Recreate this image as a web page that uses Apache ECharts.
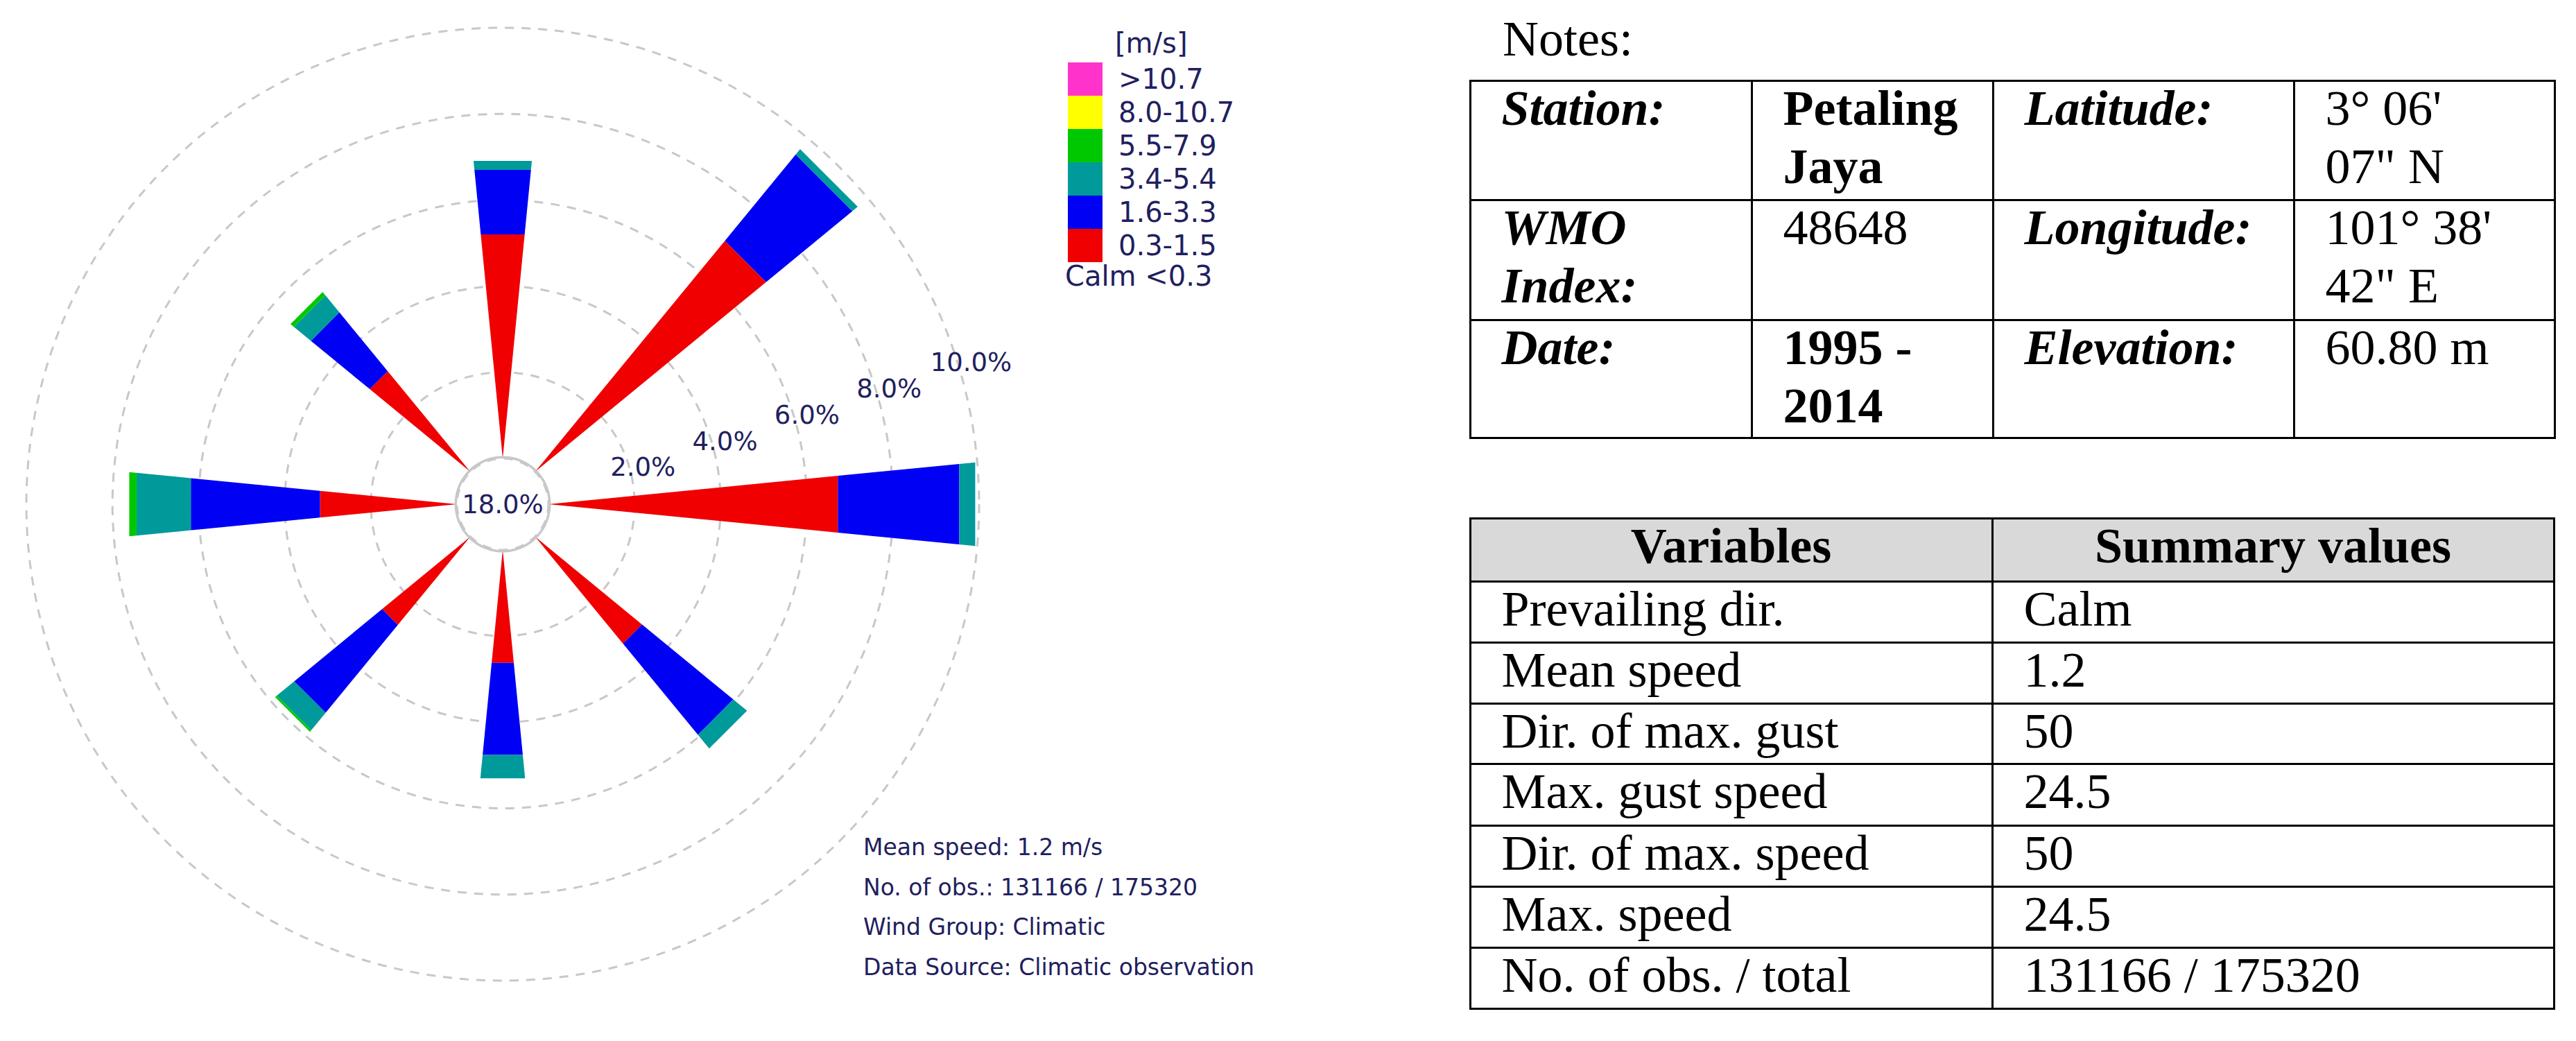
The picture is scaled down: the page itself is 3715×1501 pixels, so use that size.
<!DOCTYPE html>
<html>
<head>
<meta charset="utf-8">
<script src="https://cdn.jsdelivr.net/npm/echarts@6/dist/echarts.min.js"></script>
<style>
html, body { margin: 0; padding: 0; background: #fff; }
#chart { position: absolute; left: 0; top: 0; width: 3715px; height: 1501px; }
.serif { font-family: 'Liberation Serif', 'Times New Roman', serif; font-size: 72px; color: #000; }
.cell { position: absolute; box-sizing: border-box; border: 3px solid #000; white-space: nowrap; overflow: hidden; }
.cell .in { position: relative; top: -4px; line-height: 84px; padding-left: 44px; }
.cell.hdr { background: #d9d9d9; }
.cell.hdr .in { padding-left: 0; text-align: center; font-weight: bold; }
</style>
</head>
<body>
<div id="chart"></div>
<div id="tables"></div>
<script>
// ---------------- DATA ----------------
const directions = ['N', 'NE', 'E', 'SE', 'S', 'SW', 'W', 'NW'];
const directionDeg = [0, 45, 90, 135, 180, 225, 270, 315];
const speedClasses = ['0.3-1.5', '1.6-3.3', '3.4-5.4', '5.5-7.9', '8.0-10.7', '>10.7'];
// frequency (%) per direction, per speed class
const freq_0_3_1_5  = [5.20, 6.91, 6.72, 3.20, 2.62, 2.64, 3.18, 3.01];
const freq_1_6_3_3  = [1.50, 2.58, 2.82, 2.73, 2.14, 2.63, 3.00, 1.76];
const freq_3_4_5_4  = [0.21, 0.16, 0.37, 0.41, 0.54, 0.52, 1.26, 0.51];
const freq_5_5_7_9  = [0.00, 0.00, 0.00, 0.00, 0.00, 0.05, 0.17, 0.10];
const freq_8_0_10_7 = [0, 0, 0, 0, 0, 0, 0, 0];
const freq_gt_10_7  = [0, 0, 0, 0, 0, 0, 0, 0];
const calmPct = 18.0;
const ringTicks = [0, 2, 4, 6, 8, 10];
const legendTitle = '[m/s]';
const calmLabel = 'Calm <0.3';
const infoLines = ['Mean speed: 1.2 m/s', 'No. of obs.: 131166 / 175320', 'Wind Group: Climatic', 'Data Source: Climatic observation'];

const notesTitle = 'Notes:';
const stationTable = [
  ['Station:', 'Petaling<br>Jaya', 'Latitude:', '3° 06\'<br>07" N'],
  ['WMO<br>Index:', '48648', 'Longitude:', '101° 38\'<br>42" E'],
  ['Date:', '1995 -<br>2014', 'Elevation:', '60.80 m']
];
const summaryHeader = ['Variables', 'Summary values'];
const summaryVariables = ['Prevailing dir.', 'Mean speed', 'Dir. of max. gust', 'Max. gust speed', 'Dir. of max. speed', 'Max. speed', 'No. of obs. / total'];
const summaryValues = ['Calm', '1.2', '50', '24.5', '50', '24.5', '131166 / 175320'];

// ---------------- STYLE / LAYOUT ----------------
const classSeries = [freq_0_3_1_5, freq_1_6_3_3, freq_3_4_5_4, freq_5_5_7_9, freq_8_0_10_7, freq_gt_10_7];
const classColors = ['#f00000', '#0000f5', '#009a9a', '#00c800', '#ffff00', '#ff33cc'];
const navy = '#20205e';
const labelRayDeg = 17.7;           // direction (math deg) along which ring labels run
const halfTan = 0.098;              // half-angle tangent of each petal
const rose = { cx: 725, cy: 727, r0: 66, r1: 687 };

function toAxisAngle(compass) {      // compass -> angle-axis value (clockwise from label ray)
  return ((compass - (90 - labelRayDeg)) % 360 + 360) % 360;
}

function renderPetal(params, api) {
  const ang = api.value(0), v0 = api.value(1), v1 = api.value(2);
  if (!(v1 > v0)) return null;
  const O = api.coord([0, ang]);
  const A = api.coord([v0, ang]);
  const B = api.coord([v1, ang]);
  const dx = B[0] - O[0], dy = B[1] - O[1];
  const L = Math.hypot(dx, dy);
  if (L <= 0) return null;
  const ux = dx / L, uy = dy / L, px = -uy, py = ux;
  const d0 = Math.hypot(A[0] - O[0], A[1] - O[1]);
  const h0 = d0 * halfTan, h1 = L * halfTan;
  return {
    type: 'polygon',
    z2: 10,
    shape: { points: [
      [A[0] + px * h0, A[1] + py * h0],
      [B[0] + px * h1, B[1] + py * h1],
      [B[0] - px * h1, B[1] - py * h1],
      [A[0] - px * h0, A[1] - py * h0]
    ] },
    style: { fill: api.visual('color'), stroke: null }
  };
}

const series = [];
const cum = directions.map(() => 0);
classSeries.forEach((arr, k) => {
  const data = directions.map((d, i) => {
    const s = cum[i], e = cum[i] + arr[i];
    cum[i] = e;
    return [toAxisAngle(directionDeg[i]), s, e];
  });
  series.push({
    type: 'custom',
    name: speedClasses[k],
    coordinateSystem: 'polar',
    polarIndex: 0,
    encode: { angle: 0, radius: 2 },
    itemStyle: { color: classColors[k] },
    renderItem: renderPetal,
    data: data,
    silent: true,
    z: 20
  });
});

series.push({
  type: 'pie',
  name: 'calm',
  center: [rose.cx, rose.cy],
  radius: [66, 69.5],
  silent: true,
  z: 30,
  itemStyle: { color: '#c8c8c8' },
  label: {
    show: true, position: 'center',
    formatter: (p) => p.value.toFixed(1) + '%',
    fontSize: 37, color: navy, fontFamily: 'DejaVu Sans'
  },
  labelLine: { show: false },
  emphasis: { disabled: true },
  data: [{ value: calmPct, name: 'Calm' }]
});

const graphics = [
  { type: 'text', left: 1608, top: 42, style: { text: legendTitle, fontSize: 40, fill: navy, fontFamily: 'DejaVu Sans' } },
  { type: 'text', left: 1536, top: 378, style: { text: calmLabel, fontSize: 40, fill: navy, fontFamily: 'DejaVu Sans' } }
];
infoLines.forEach((t, i) => {
  graphics.push({ type: 'text', left: 1245, top: 1205 + i * 57.5,
    style: { text: t, fontSize: 33, fill: navy, fontFamily: 'DejaVu Sans' } });
});

const option = {
  animation: false,
  backgroundColor: '#ffffff',
  polar: { center: [rose.cx, rose.cy], radius: [rose.r0, rose.r1] },
  angleAxis: {
    type: 'value', min: 0, max: 360, startAngle: labelRayDeg, clockwise: true,
    axisLine: { show: false }, axisTick: { show: false }, axisLabel: { show: false },
    splitLine: { show: false }
  },
  radiusAxis: {
    type: 'value', min: ringTicks[0], max: ringTicks[ringTicks.length - 1], interval: ringTicks[1] - ringTicks[0],
    axisLine: { show: false }, axisTick: { show: false },
    axisLabel: {
      show: true, margin: -5, align: 'center', verticalAlign: 'middle', padding: [0, 0, 0, 39],
      fontSize: 37, color: navy, fontFamily: 'DejaVu Sans',
      formatter: (v) => (v === 0 ? '' : v.toFixed(1) + '%')
    },
    splitLine: { show: true, showMinLine: false, lineStyle: { color: '#c8c8c8', width: 3, type: [13, 11] } },
    z: 1
  },
  legend: {
    orient: 'vertical', left: 1535, top: 85, itemWidth: 50, itemHeight: 48, itemGap: 0,
    icon: 'rect', selectedMode: false,
    data: speedClasses.slice().reverse(),
    textStyle: { fontSize: 40, color: navy, fontFamily: 'DejaVu Sans', padding: [0, 0, 0, 18] }
  },
  graphic: graphics,
  series: series
};

const chart = echarts.init(document.getElementById('chart'), null, { renderer: 'svg', width: 3715, height: 1501 });
chart.setOption(option);

// ---------------- TABLES (HTML text) ----------------
const host = document.getElementById('tables');
function addCell(x0, x1, y0, y1, html, extraClass, styleText) {
  const d = document.createElement('div');
  d.className = 'cell serif' + (extraClass ? ' ' + extraClass : '');
  d.style.left = (x0 - 1.5) + 'px';
  d.style.top = (y0 - 1.5) + 'px';
  d.style.width = (x1 - x0 + 3) + 'px';
  d.style.height = (y1 - y0 + 3) + 'px';
  d.innerHTML = '<div class="in" style="' + (styleText || '') + '">' + html + '</div>';
  host.appendChild(d);
}
const notes = document.createElement('div');
notes.className = 'serif';
notes.style.cssText = 'position:absolute;left:2167px;top:20px;line-height:72px;';
notes.textContent = notesTitle;
host.appendChild(notes);

const t1Cols = [2120, 2526, 2874, 3308, 3684];
const t1Rows = [116, 288, 461, 631];
const t1Styles = ['font-weight:bold;font-style:italic;', null, 'font-weight:bold;font-style:italic;', ''];
const t1Col1Bold = [true, false, true];
stationTable.forEach((row, r) => {
  row.forEach((txt, c) => {
    let st = t1Styles[c];
    if (c === 1) st = t1Col1Bold[r] ? 'font-weight:bold;' : '';
    addCell(t1Cols[c], t1Cols[c + 1], t1Rows[r], t1Rows[r + 1], txt, '', st);
  });
});

const t2Cols = [2120, 2873, 3683];
const t2Rows = [747, 838, 926, 1014, 1101.5, 1190, 1278, 1366, 1454];
addCell(t2Cols[0], t2Cols[1], t2Rows[0], t2Rows[1], summaryHeader[0], 'hdr');
addCell(t2Cols[1], t2Cols[2], t2Rows[0], t2Rows[1], summaryHeader[1], 'hdr');
summaryVariables.forEach((v, i) => {
  addCell(t2Cols[0], t2Cols[1], t2Rows[i + 1], t2Rows[i + 2], v, '', '');
  addCell(t2Cols[1], t2Cols[2], t2Rows[i + 1], t2Rows[i + 2], summaryValues[i], '', '');
});
</script>
</body>
</html>
